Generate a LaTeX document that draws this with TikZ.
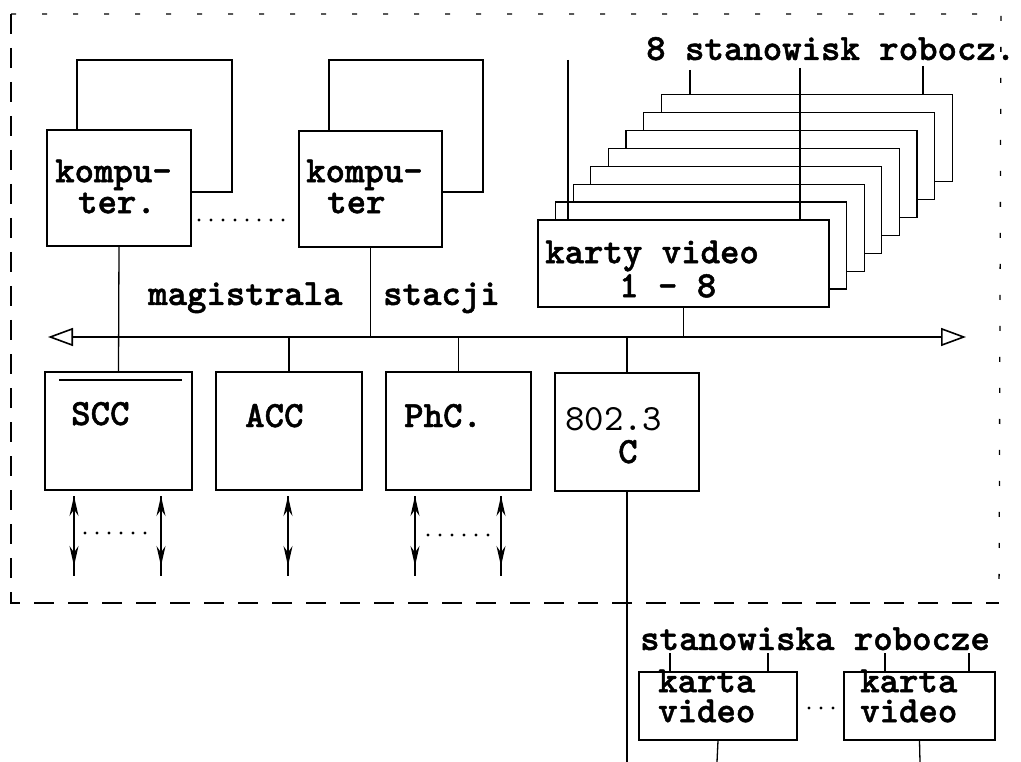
\documentclass[tikz,border=0pt]{standalone}
\usepackage{fontspec}
\newfontfamily\tw[Extension=.otf, FakeBold=1.3]{lmmonolt10-bold}
\newfontfamily\twthin[Extension=.otf]{lmmono10-regular}
\usetikzlibrary{arrows.meta}
\tikzset{
  box/.style={draw, line width=1.3pt, fill=white, inner sep=0pt, rectangle},
  lbl/.style={font=\tw\fontsize{37}{31}\selectfont, inner sep=0pt, anchor=base west},
  lbl2/.style={font=\tw\fontsize{37}{#1}\selectfont, inner sep=0pt, anchor=north west, align=left},
  lblthin/.style={font=\twthin\fontsize{37}{31}\selectfont, inner sep=0pt, anchor=base west},
  conn/.style={line width=1.3pt},
  dotline/.style={line width=3.2pt, line cap=round, dash pattern=on 0pt off 12pt},
  frame/.style={line width=1.3pt, dash pattern=on 20pt off 14pt},
  sparse/.style={line width=1.3pt, dash pattern=on 5pt off 26pt},
  bustip/.tip={Triangle[open, length=25pt, width=18pt]},
  iotip/.tip={Stealth[length=20pt, width=9pt]}
}
\begin{document}
\begin{tikzpicture}[x=1pt, y=-1pt]
\useasboundingbox (0,0) rectangle (1021,762);
\fill[white] (0,0) rectangle (1021,762);

% frame
\coordinate (fTL) at (11,14);
\coordinate (fBL) at (11,603);
\coordinate (fBR) at (999,603);
\coordinate (fTR) at (1001,14);
\draw[frame] (fTL) -- (fBL) -- (fBR);
\draw[sparse] (fTL) -- (fTR) -- (fBR);

% computers
\node[box, minimum width=155pt, minimum height=132pt] (c1b) at (154.5,126) {};
\node[box, minimum width=144pt, minimum height=116pt] (c1) at (119,188) {};
\node[box, minimum width=154pt, minimum height=132pt] (c2b) at (406,126) {};
\node[box, minimum width=143pt, minimum height=116pt] (c2) at (370.5,189) {};
\node[lbl2=31pt] (c1t) at (55,159.4) {kompu-\\\hspace*{0.62em}ter.};
\node[lbl2=31pt] (c2t) at (306,159.4) {kompu-\\\hspace*{0.57em}ter};
\coordinate (cd1) at (199,220);
\coordinate (cd2) at (290,220);
\draw[dotline] (cd1) -- (cd2);

% video card stack
\foreach \i in {7,6,...,0} {
  \node[box, minimum width=291pt, minimum height=87pt] (vc\i) at ({683.5+17.6*\i},{263.5-17.9*\i}) {};
}
\node[lbl2=34pt] (kv) at (545,240.4) {karty video\\\hspace*{2em}1 - 8};
\node[lbl] (st8) at (646,60) {8 stanowisk robocz.};
\coordinate (w1) at (568,60);
\coordinate (w2) at (800,68);
\coordinate (w3) at (690,70);
\coordinate (w4) at (923,66);
\draw[conn] (w1) -- (w1 |- vc0.north);
\draw[conn] (w2) -- (w2 |- vc0.north);
\draw[conn] (w3) -- (w3 |- vc7.north);
\draw[conn] (w4) -- (w4 |- vc7.north);

% bus
\coordinate (busL) at (48,337);
\coordinate (busR) at (966,337);
\draw[line width=1.6pt, {bustip}-{bustip}] (busL) -- (busR);
\node[lbl] (mag) at (148,305) {magistrala};
\node[lbl] (sta) at (383,305) {stacji};

% controllers
\node[box, minimum width=147pt, minimum height=118pt] (scc) at (118.5,431) {};
\node[box, minimum width=146pt, minimum height=118pt] (acc) at (289,431) {};
\node[box, minimum width=145pt, minimum height=118pt] (phc) at (458.5,431) {};
\node[box, minimum width=144pt, minimum height=118pt] (net) at (627,432) {};
\coordinate (sccL) at (59,380);
\coordinate (sccR) at (182,380);
\draw[conn] (sccL) -- (sccR);
\node[lbl] (tscc) at (71,425) {SCC};
\node[lbl] (tacc) at (245,427) {ACC};
\node[lbl] (tphc) at (404,427) {PhC.};
\node[lblthin] (tnet) at (565,430) {802.3};
\node[lbl] (tnetc) at (618,463) {C};

% connectors to bus
\draw[conn] (c1.south) -- (scc.north);
\draw[conn] (c2.south) -- (c2.south |- busL);
\draw[conn] (vc0.south) -- (vc0.south |- busL);
\draw[conn] (acc.north) -- (acc.north |- busL);
\draw[conn] (phc.north) -- (phc.north |- busL);
\draw[conn] (net.north) -- (net.north |- busL);

% I/O arrows
\foreach \n/\x in {a1/74, a2/161, a3/288, a4/415, a5/501} {
  \coordinate (\n t) at (\x,496);
  \coordinate (\n b) at (\x,576);
  \coordinate (\n m) at (\x,566);
  \draw[conn, {iotip}-] (\n t) -- (\n b);
  \draw[conn, -{iotip}] (\n t) -- (\n m);
}
\coordinate (sd1) at (85,533);
\coordinate (sd2) at (152,533);
\draw[dotline] (sd1) -- (sd2);
\coordinate (pd1) at (428,535);
\coordinate (pd2) at (492,535);
\draw[dotline] (pd1) -- (pd2);

% external workstations
\coordinate (netEnd) at (627,762);
\draw[conn] (net.south) -- (netEnd);
\node[lbl] (stw) at (640,650) {stanowiska robocze};
\node[box, minimum width=158pt, minimum height=68pt] (kv1) at (718,706) {};
\node[box, minimum width=151pt, minimum height=68pt] (kv2) at (919.5,706) {};
\node[lbl2=30pt] (kv1t) at (658,669.4) {karta\\video};
\node[lbl2=30pt] (kv2t) at (860,669.4) {karta\\video};
\foreach \x in {670,768,885,969} {
  \coordinate (tk\x) at (\x,653);
  \draw[conn] (tk\x) -- (tk\x |- kv1.north);
}
\coordinate (kv1e) at (717,762);
\coordinate (kv2e) at (920,762);
\draw[conn] (kv1.south) -- (kv1e);
\draw[conn] (kv2.south) -- (kv2e);
\coordinate (bd1) at (809,708);
\coordinate (bd2) at (835,708);
\draw[dotline] (bd1) -- (bd2);
\end{tikzpicture}
\end{document}
